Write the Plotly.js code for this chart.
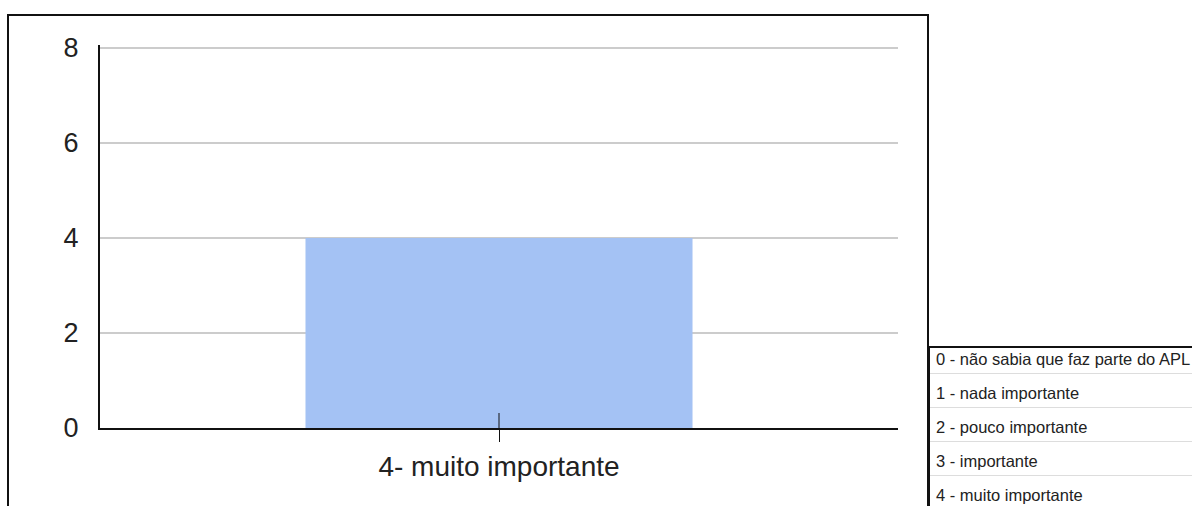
<!DOCTYPE html>
<html>
<head>
<meta charset="utf-8">
<script src="https://cdn.plot.ly/plotly-3.0.1.min.js"></script>
<style>
  html, body { margin: 0; padding: 0; background: #fff; width: 1192px; height: 506px; overflow: hidden; }
  #frame { position: absolute; left: 7px; top: 14px; width: 922px; height: 520px; border: 2px solid #111; box-sizing: border-box; }
  #chart { position: absolute; left: 0; top: 0; width: 1192px; height: 506px; }
  #legendTable { position: absolute; left: 928px; top: 346px; width: 300px; border-collapse: collapse; border-top: 2px solid #111; border-left: 2px solid #111;
    font-family: "Liberation Sans", Arial, sans-serif; font-size: 16.5px; color: #222; }
  #legendTable td { height: 34px; padding: 9px 0 0 6px; line-height: 20px; border-bottom: 1px solid #ddd; white-space: nowrap; vertical-align: top; box-sizing: border-box; }
  #legendTable tr:first-child td { height: 26px; padding-top: 1px; }
</style>
</head>
<body>
<div id="chart"></div>
<div id="frame"></div>
<table id="legendTable"></table>
<script>
const categories = ["4- muito importante"];
const values = [4];
const yTicks = [0, 2, 4, 6, 8];
const scaleLabels = [
  "0 - não sabia que faz parte do APL",
  "1 - nada importante",
  "2 - pouco importante",
  "3 - importante",
  "4 - muito importante"
];

const tbl = document.getElementById('legendTable');
scaleLabels.forEach(t => {
  const tr = document.createElement('tr');
  const td = document.createElement('td');
  td.textContent = t;
  tr.appendChild(td);
  tbl.appendChild(tr);
});

const data = [{
  type: 'bar',
  x: categories,
  y: values,
  marker: { color: '#a4c2f4' },
  hoverinfo: 'none'
}];

const layout = {
  width: 1192, height: 506,
  margin: { l: 100, r: 294, t: 45, b: 78, pad: 0 },
  paper_bgcolor: 'rgba(0,0,0,0)',
  plot_bgcolor: 'rgba(0,0,0,0)',
  bargap: 0.515,
  showlegend: false,
  font: { family: 'Liberation Sans, Arial, sans-serif', color: '#222' },
  xaxis: {
    type: 'category',
    showline: true, linecolor: '#111', linewidth: 2,
    ticks: 'outside', ticklen: 12, tickcolor: '#111', tickwidth: 1,
    tickfont: { size: 28, color: '#222' },
    showgrid: false, zeroline: false, fixedrange: true
  },
  yaxis: {
    range: [0, 8.06],
    tickvals: yTicks,
    showline: true, linecolor: '#111', linewidth: 2,
    showgrid: true, gridcolor: '#cccccc', gridwidth: 2,
    zeroline: false,
    ticks: '', ticklabelstandoff: 14,
    tickfont: { size: 27, color: '#222' },
    fixedrange: true
  },
  shapes: [{
    type: 'line', xref: 'x', yref: 'y',
    x0: 0, x1: 0, y0: 0, y1: 15,
    ysizemode: 'pixel', yanchor: 0,
    line: { color: '#111', width: 1 }
  }]
};

Plotly.newPlot('chart', data, layout, { displayModeBar: false, staticPlot: true });
</script>
</body>
</html>
